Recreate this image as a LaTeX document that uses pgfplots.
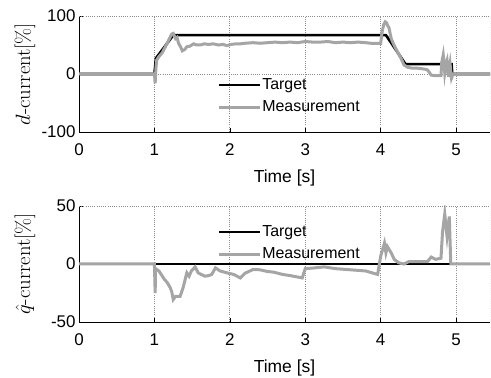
\documentclass[border=0pt]{standalone}
\usepackage[no-math]{fontspec}
\setmainfont{Liberation Sans}
\usepackage{pgfplots}
\pgfplotsset{compat=1.18}
\definecolor{meas}{RGB}{165,165,165}
\definecolor{gridc}{RGB}{140,140,140}
\pgfplotsset{myax/.style={
  scale only axis, width=411bp, height=116bp,
  xmin=0, xmax=5.45,
  axis x line*=bottom, axis y line*=left,
  axis line style={black, line width=0.8bp, -},
  xtick={0,1,2,3,4,5}, xticklabels={0,1,2,3,4,5},
  tick style={black, line width=0.6bp}, major tick length=4bp, tick align=inside,
  grid=major, grid style={gridc, dash pattern=on 1bp off 1.2bp, line width=0.9bp},
  tick label style={font=\fontsize{17}{20}\selectfont},
  xticklabel style={yshift=-8bp},
  xlabel={Time [s]},
  xlabel style={font=\fontsize{17.5}{20}\selectfont, at={(axis description cs:0.5,-0.397)}, anchor=center},
  ylabel style={font=\fontsize{22}{24}\selectfont, at={(axis description cs:-0.1314,0.5)}, anchor=center},
  legend style={draw=none, fill=none, font=\fontsize{16}{18}\selectfont, anchor=west, inner sep=0pt, row sep=0pt,
    nodes={inner xsep=1bp, inner ysep=0pt, minimum height=22bp},
    /tikz/every even column/.append style={column sep=0pt}},
  legend cell align=left,
  legend image code/.code={\draw[#1] (0bp,0bp) -- (41bp,0bp);},
}}
\begin{document}
\begin{tikzpicture}
\begin{axis}[myax, at={(79bp,246bp)}, anchor=south west,
  ymin=-100, ymax=100, ytick={-100,0,100}, yticklabels={-100,0,100},
  ylabel={$d\mathchar"2D\mathrm{current}[\%]$},
  legend style={at={(0.336,0.31)}}]
\addplot[black, line width=2.6bp] coordinates {(0,0)(1.0,0)(1.02,27)(1.25,67)(4.07,67)(4.33,17)(4.94,17)(4.95,0)(5.45,0)};
\addlegendentry{Target}
\addplot[meas, line width=3bp] coordinates {(0,0)(1.0,0)(1.01,-16)(1.02,10)(1.03,24)(1.06,30)(1.10,36)(1.17,53)(1.21,64)(1.23,69)(1.25,70)(1.28,61)(1.30,63)(1.32,53)(1.35,46)(1.37,40)(1.40,42)(1.43,47)(1.47,48)(1.52,52)(1.56,50)(1.61,50)(1.66,52)(1.72,51)(1.78,52)(1.85,50)(1.91,51)(1.96,49)(2.02,51)(2.08,52)(2.14,52)(2.2,53)(2.31,54)(2.4,53)(2.5,54)(2.6,55)(2.7,54)(2.8,55)(2.9,54)(3.0,56)(3.1,55)(3.2,55)(3.3,56)(3.4,54)(3.5,55)(3.6,54)(3.7,55)(3.8,54)(3.87,53)(4.0,53)(4.02,73)(4.04,85)(4.06,90)(4.08,88)(4.09,84)(4.11,80)(4.14,61)(4.17,52)(4.20,44)(4.27,27)(4.31,15.5)(4.36,11.5)(4.42,10)(4.49,10)(4.55,9)(4.60,8)(4.62,7)(4.65,2)(4.67,-2)(4.74,-3)(4.80,-3)(4.81,20)(4.83,33)(4.84,20)(4.85,2)(4.87,20)(4.88,24)(4.89,10)(4.90,-5)(4.91,10)(4.92,18)(4.93,5)(4.94,-7)(4.96,0)(5.45,0)};
\addlegendentry{Measurement}
\draw[gridc, dash pattern=on 1bp off 1.2bp, line width=0.9bp] (rel axis cs:0,1) -- (rel axis cs:1,1) -- (rel axis cs:1,0);
\end{axis}
\begin{axis}[myax, at={(79bp,56bp)}, anchor=south west,
  ymin=-50, ymax=50, ytick={-50,0,50}, yticklabels={-50,0,50},
  ylabel={$\hat{q}\mathchar"2D\mathrm{current}[\%]$},
  legend style={at={(0.336,0.68)}}]
\addplot[black, line width=2.6bp] coordinates {(0,0)(5.45,0)};
\addlegendentry{Target}
\addplot[meas, line width=3bp] coordinates {(0,0)(1.0,0)(1.01,-25)(1.015,-4)(1.06,-6)(1.13,-13)(1.17,-16)(1.21,-20.5)(1.23,-24)(1.25,-30.6)(1.28,-28)(1.34,-28)(1.38,-20.5)(1.43,-7.6)(1.46,-10.5)(1.49,-6)(1.54,-2.5)(1.58,-7.6)(1.62,-9)(1.67,-10.5)(1.72,-10)(1.76,-9)(1.81,-3.3)(1.87,-6)(1.96,-7.6)(2.05,-9)(2.14,-12)(2.2,-8)(2.31,-4.7)(2.4,-5)(2.5,-6.5)(2.58,-7)(2.7,-9)(2.8,-10)(2.96,-12)(3.0,-4)(3.1,-3.5)(3.25,-2.5)(3.4,-4)(3.6,-5)(3.8,-6)(3.96,-9)(4.0,6.7)(4.05,18)(4.07,9.6)(4.09,15)(4.14,9.6)(4.18,4)(4.24,1)(4.31,0)(4.37,2)(4.62,2)(4.67,6)(4.73,4)(4.80,5)(4.82,27)(4.85,43)(4.88,24)(4.91,41)(4.93,0)(5.45,0)};
\addlegendentry{Measurement}
\draw[gridc, dash pattern=on 1bp off 1.2bp, line width=0.9bp] (rel axis cs:0,1) -- (rel axis cs:1,1) -- (rel axis cs:1,0);
\end{axis}
\pgfresetboundingbox
\path[use as bounding box] (0,0) rectangle (491bp,378bp);
\end{tikzpicture}
\end{document}
